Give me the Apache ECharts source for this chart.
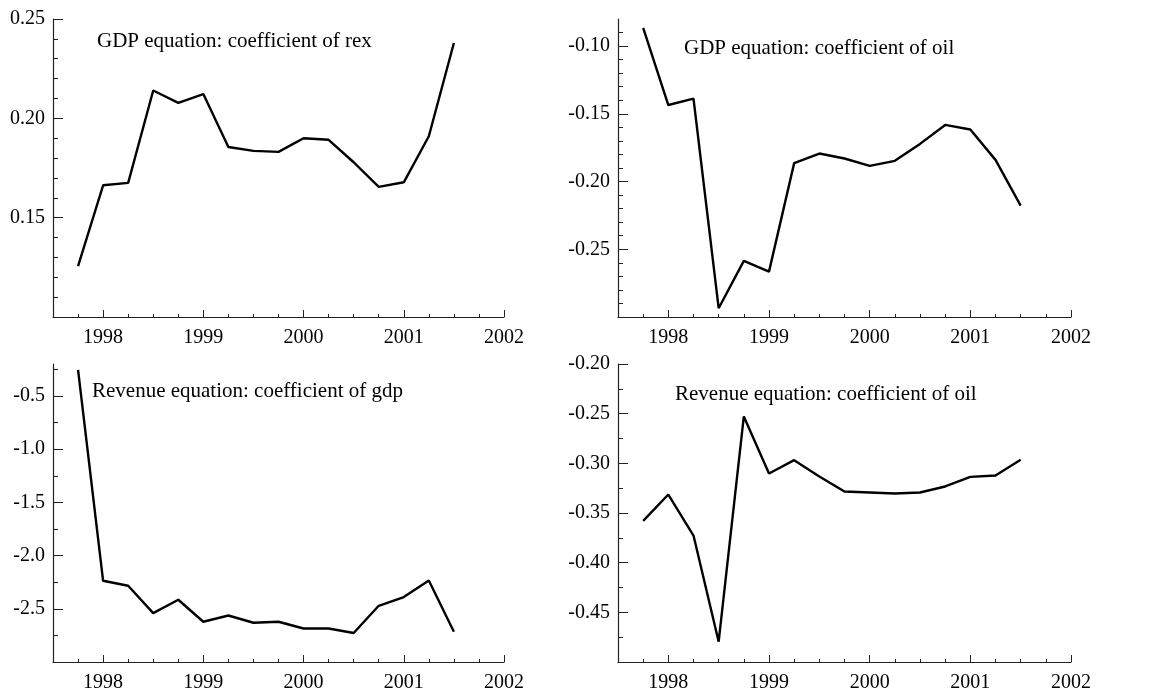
<!DOCTYPE html>
<html>
<head>
<meta charset="utf-8">
<script src="https://cdn.jsdelivr.net/npm/echarts@6/dist/echarts.min.js"></script>
<style>
html, body { margin: 0; padding: 0; background: #fff; }
#chart { width: 1149px; height: 689px; }
</style>
</head>
<body>
<div id="chart"></div>
<script>
// quarterly dates (decimal years)
var dates = [1997.75, 1998, 1998.25, 1998.5, 1998.75, 1999, 1999.25, 1999.5,
    1999.75, 2000, 2000.25, 2000.5, 2000.75, 2001, 2001.25, 2001.5];

var gdpRex = [0.1256, 0.1663, 0.1675, 0.2140, 0.2078, 0.2122, 0.1856, 0.1836,
    0.1831, 0.1900, 0.1892, 0.1779, 0.1655, 0.1678, 0.1910, 0.2379];
var gdpOil = [-0.0865, -0.1435, -0.1388, -0.2935, -0.2586, -0.2665, -0.1864, -0.1793,
    -0.1830, -0.1884, -0.1847, -0.1722, -0.1582, -0.1616, -0.1840, -0.2178];
var revGdp = [-0.256, -2.237, -2.284, -2.541, -2.415, -2.622, -2.563, -2.631,
    -2.622, -2.685, -2.685, -2.728, -2.472, -2.390, -2.234, -2.716];
var revOil = [-0.3580, -0.3314, -0.3727, -0.4796, -0.2528, -0.3102, -0.2968, -0.3132,
    -0.3284, -0.3294, -0.3304, -0.3294, -0.3233, -0.3136, -0.3122, -0.2964];

var titles = ['GDP equation: coefficient of rex', 'GDP equation: coefficient of oil',
    'Revenue equation: coefficient of gdp', 'Revenue equation: coefficient of oil'];

// tick labels
var yearTicks = [1998, 1999, 2000, 2001, 2002];
var yTicks1 = [0.15, 0.20, 0.25];
var yTicks2 = [-0.25, -0.20, -0.15, -0.10];
var yTicks3 = [-2.5, -2.0, -1.5, -1.0, -0.5];
var yTicks4 = [-0.45, -0.40, -0.35, -0.30, -0.25, -0.20];

var font = 'Liberation Serif';
var ink = '#222';

function steps(from, to, step) {
    var out = [];
    var n = Math.round((to - from) / step);
    for (var i = 0; i <= n; i++) out.push(+(from + i * step).toFixed(4));
    return out;
}
var quarterTicks = steps(1997.75, 2001.75, 0.25);

var panels = [
    { data: gdpRex, title: titles[0], ymin: 0.10, ymax: 0.25, major: yTicks1, minor: steps(0.11, 0.24, 0.01), dec: 2,
      grid: { left: 53, top: 19, width: 451, height: 298 }, tl: 97, tt: 31 },
    { data: gdpOil, title: titles[1], ymin: -0.30, ymax: -0.08, major: yTicks2, minor: steps(-0.29, -0.09, 0.01), dec: 2,
      grid: { left: 618, top: 19, width: 453, height: 298 }, tl: 684, tt: 38 },
    { data: revGdp, title: titles[2], ymin: -3.0, ymax: -0.2, major: yTicks3, minor: steps(-2.75, -0.25, 0.25), dec: 1,
      grid: { left: 53, top: 364, width: 451, height: 298 }, tl: 92, tt: 381 },
    { data: revOil, title: titles[3], ymin: -0.50, ymax: -0.20, major: yTicks4, minor: steps(-0.475, -0.225, 0.025), dec: 2,
      grid: { left: 618, top: 364, width: 453, height: 298 }, tl: 675, tt: 384 }
];

var myChart = echarts.init(document.getElementById('chart'));

var option = {
    backgroundColor: '#fff',
    animation: false,
    title: [],
    grid: [],
    xAxis: [],
    yAxis: [],
    series: []
};

panels.forEach(function (p, i) {
    var g = p.grid;
    g.outerBoundsMode = 'none';
    g.containLabel = false;
    option.grid.push(g);
    option.title.push({
        text: p.title, left: p.tl, top: p.tt, padding: 0,
        textStyle: { fontFamily: font, fontWeight: 'normal', fontSize: 21, color: '#000' }
    });
    // major x axis: years with labels
    option.xAxis.push({
        type: 'value', gridIndex: i, min: 1997.5, max: 2002, position: 'bottom',
        axisLine: { show: true, onZero: false, lineStyle: { color: ink, width: 1.2 } },
        axisTick: { show: true, inside: true, length: 7, customValues: yearTicks, lineStyle: { color: ink } },
        axisLabel: {
            show: true, customValues: yearTicks, margin: 11, fontFamily: font, fontSize: 20, color: '#000',
            formatter: function (v) { return String(v); }
        },
        splitLine: { show: false }
    });
    // minor x axis: quarters
    option.xAxis.push({
        type: 'value', gridIndex: i, min: 1997.5, max: 2002, position: 'bottom',
        axisLine: { show: false, onZero: false },
        axisTick: { show: true, inside: true, length: 3, customValues: quarterTicks, lineStyle: { color: ink } },
        axisLabel: { show: false },
        splitLine: { show: false }
    });
    option.yAxis.push({
        type: 'value', gridIndex: i, min: p.ymin, max: p.ymax, position: 'left',
        axisLine: { show: true, onZero: false, lineStyle: { color: ink, width: 1.2 } },
        axisTick: { show: true, inside: true, length: 10, customValues: p.major, lineStyle: { color: ink } },
        axisLabel: {
            show: true, customValues: p.major, margin: 8, fontFamily: font, fontSize: 20, color: '#000',
            formatter: (function (d) { return function (v) { return v.toFixed(d); }; })(p.dec)
        },
        splitLine: { show: false }
    });
    option.yAxis.push({
        type: 'value', gridIndex: i, min: p.ymin, max: p.ymax, position: 'left',
        axisLine: { show: false, onZero: false },
        axisTick: { show: true, inside: true, length: 5, customValues: p.minor, lineStyle: { color: ink } },
        axisLabel: { show: false },
        splitLine: { show: false }
    });
    option.series.push({
        type: 'line', xAxisIndex: i * 2, yAxisIndex: i * 2,
        data: dates.map(function (d, k) { return [d, p.data[k]]; }),
        showSymbol: false, symbol: 'none',
        lineStyle: { color: '#000', width: 2.4 }
    });
});

myChart.setOption(option);
</script>
</body>
</html>
